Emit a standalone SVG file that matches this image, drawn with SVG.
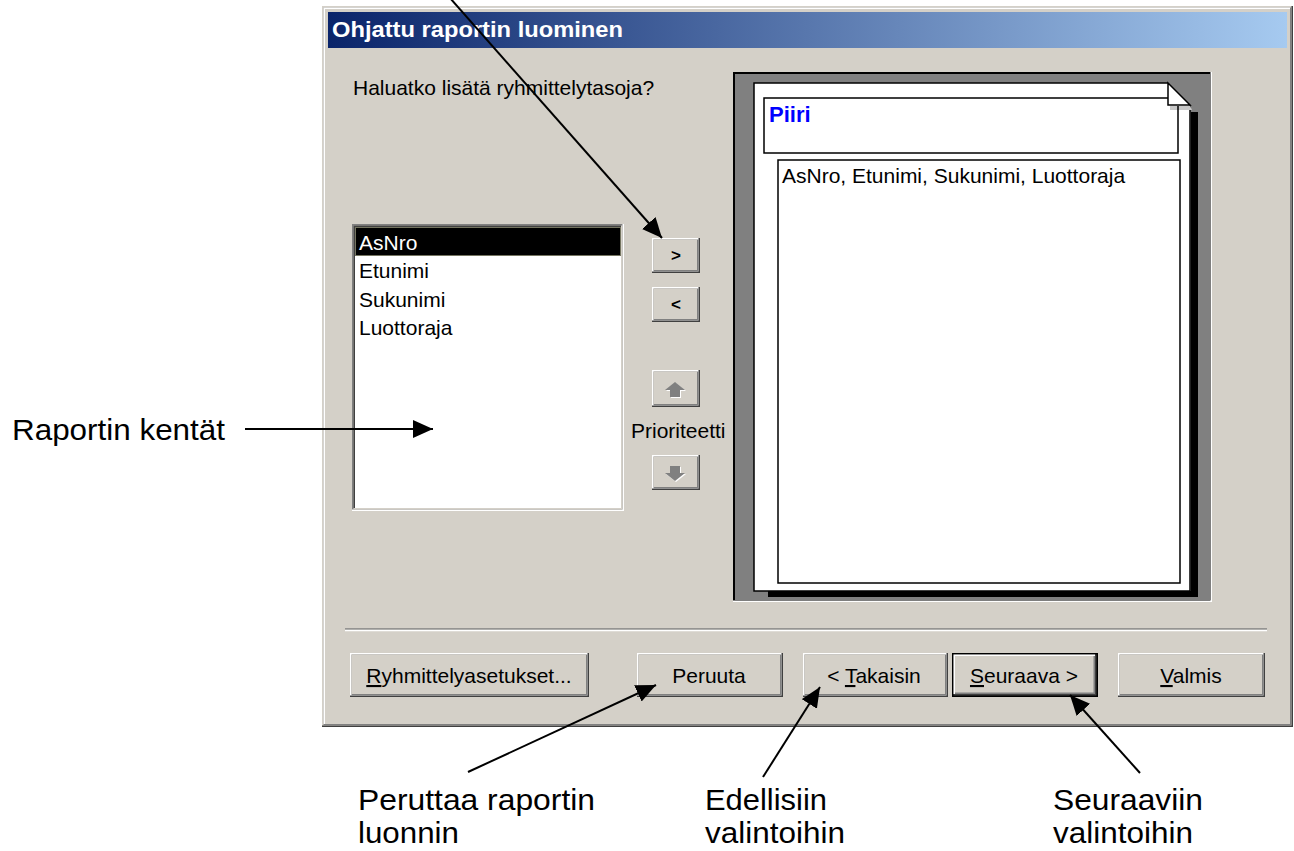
<svg xmlns="http://www.w3.org/2000/svg" width="1294" height="851" viewBox="0 0 1294 851">
  <defs>
    <linearGradient id="titleGrad" x1="0" y1="0" x2="1" y2="0">
      <stop offset="0" stop-color="#0a246a"/>
      <stop offset="1" stop-color="#a6caf0"/>
    </linearGradient>
    <marker id="arrowHead" markerUnits="userSpaceOnUse" markerWidth="22" markerHeight="20" refX="20" refY="9" orient="auto">
      <path d="M0,0 L20,9 L0,18 Z" fill="#000"/>
    </marker>
  </defs>
  <style>
    .ui { font-family: "Liberation Sans", Arial, sans-serif; font-size: 21px; fill: #000; }
    .btn-text { text-anchor: middle; }
    .label { font-family: "Liberation Sans", Arial, sans-serif; font-size: 30px; fill: #000; }
    .face { fill: #d4d0c8; }
    .bev-dark { fill: #404040; }
    .bev-hi { fill: #ffffff; }
    .bev-shadow { fill: #808080; }
    .icon { fill: #808080; }
    .icon-hi { fill: #ffffff; }
    .conn { stroke: #000; stroke-width: 2; fill: none; marker-end: url(#arrowHead); }
    .outline { fill: none; stroke: #000; stroke-width: 1.5; }
  </style>

  <rect width="1294" height="851" fill="#ffffff"/>

  <!-- window frame and title bar -->
  <g id="dialog">
    <rect class="bev-dark" x="322" y="6" width="971" height="721"/>
    <rect class="face" x="322" y="6" width="969.5" height="719.5"/>
    <rect class="bev-shadow" x="323.5" y="7.5" width="968" height="718"/>
    <rect class="bev-hi" x="323.5" y="7.5" width="966.5" height="716.5"/>
    <rect class="face" x="325" y="9" width="965" height="715"/>
    <rect x="328" y="12" width="959" height="36" fill="url(#titleGrad)"/>
    <text x="332" y="37" font-family="'Liberation Sans', Arial, sans-serif" font-size="22" font-weight="bold" fill="#ffffff" textLength="291" lengthAdjust="spacingAndGlyphs">Ohjattu raportin luominen</text>
    <!-- separator above the command buttons -->
    <line x1="345" y1="629" x2="1267" y2="629" stroke="#808080" stroke-width="1.5"/>
    <line x1="345" y1="630.5" x2="1267" y2="630.5" stroke="#ffffff" stroke-width="1.5"/>
  </g>

  <g id="question">
    <text class="ui" x="353" y="95">Haluatko lisätä ryhmittelytasoja?</text>
  </g>

  <!-- available fields list -->
  <g id="field-list">
    <rect class="bev-hi" x="352" y="224" width="272" height="287"/>
    <rect class="bev-shadow" x="352" y="224" width="270.5" height="285.5"/>
    <rect class="face" x="353.5" y="225.5" width="269" height="284"/>
    <rect class="bev-dark" x="353.5" y="225.5" width="267.5" height="282.5"/>
    <rect x="355" y="227" width="266" height="281" fill="#ffffff"/>
    <rect x="355" y="227" width="266" height="29" fill="#000000"/>
    <rect x="355.5" y="227.5" width="265" height="28" fill="none" stroke="#e8e8c0" stroke-width="1" stroke-dasharray="1 1"/>
    <text class="ui" x="359" y="250" style="fill:#ffffff">AsNro</text>
    <text class="ui" x="359" y="278">Etunimi</text>
    <text class="ui" x="359" y="307">Sukunimi</text>
    <text class="ui" x="359" y="335">Luottoraja</text>
  </g>

  <!-- move buttons -->
  <g id="btn-add">
    <rect class="bev-dark" x="652" y="238" width="48" height="35"/>
    <rect class="bev-hi" x="652" y="238" width="46.5" height="33.5"/>
    <rect class="bev-shadow" x="653.5" y="239.5" width="45" height="32"/>
    <rect class="face" x="653.5" y="239.5" width="43.5" height="30.5"/>
    <text class="ui btn-text" x="676" y="261" font-weight="bold" style="font-size:17px">&gt;</text>
  </g>
  <g id="btn-remove">
    <rect class="bev-dark" x="652" y="287" width="48" height="35"/>
    <rect class="bev-hi" x="652" y="287" width="46.5" height="33.5"/>
    <rect class="bev-shadow" x="653.5" y="288.5" width="45" height="32"/>
    <rect class="face" x="653.5" y="288.5" width="43.5" height="30.5"/>
    <text class="ui btn-text" x="676" y="310" font-weight="bold" style="font-size:17px">&lt;</text>
  </g>
  <g id="btn-up">
    <rect class="bev-dark" x="652" y="370" width="48" height="37"/>
    <rect class="bev-hi" x="652" y="370" width="46.5" height="35.5"/>
    <rect class="bev-shadow" x="653.5" y="371.5" width="45" height="34"/>
    <rect class="face" x="653.5" y="371.5" width="43.5" height="32.5"/>
    <polygon class="icon-hi" points="676,383 686,391 681,391 681,398 671,398 671,391 666,391"/>
    <polygon class="icon" points="675,382 685,390 680,390 680,397 670,397 670,390 665,390"/>
  </g>
  <g id="priority-label">
    <text class="ui" x="631" y="438">Prioriteetti</text>
  </g>
  <g id="btn-down">
    <rect class="bev-dark" x="652" y="455" width="48" height="35"/>
    <rect class="bev-hi" x="652" y="455" width="46.5" height="33.5"/>
    <rect class="bev-shadow" x="653.5" y="456.5" width="45" height="32"/>
    <rect class="face" x="653.5" y="456.5" width="43.5" height="30.5"/>
    <polygon class="icon-hi" points="676,482 686,474 681,474 681,467 671,467 671,474 666,474"/>
    <polygon class="icon" points="675,481 685,473 680,473 680,466 670,466 670,473 665,473"/>
  </g>

  <!-- report layout preview -->
  <g id="preview">
    <rect class="bev-hi" x="733" y="72" width="479" height="530"/>
    <rect fill="#000000" x="733" y="72" width="477.5" height="528.5"/>
    <rect class="bev-shadow" x="735" y="74" width="475" height="526"/>
    <path d="M1191,112 H1198 V597 H768 V591 H1191 Z" fill="#000000"/>
    <path d="M754,83 H1168 L1190,105 V591 H754 Z" fill="#ffffff"/>
    <path class="outline" d="M1190,105 V591 H754 V83 H1168"/>
    <polygon points="1170,105.8 1190,105.8 1192,110 1170,110" fill="#c8c8c8"/>
    <polygon points="1168,83 1168,105 1190,105" fill="#ffffff" stroke="#000" stroke-width="1.5"/>
    <path class="outline" d="M1168,98 H764 V153 H1178 V106"/>
    <text x="769" y="122" font-family="'Liberation Sans', Arial, sans-serif" font-size="22" font-weight="bold" fill="#0000ff">Piiri</text>
    <rect class="outline" x="778" y="160" width="402" height="423"/>
    <text class="ui" x="782" y="183">AsNro, Etunimi, Sukunimi, Luottoraja</text>
  </g>

  <!-- command buttons -->
  <g id="btn-options">
    <rect class="bev-dark" x="350" y="653" width="239" height="44"/>
    <rect class="bev-hi" x="350" y="653" width="237.5" height="42.5"/>
    <rect class="bev-shadow" x="351.5" y="654.5" width="236" height="41"/>
    <rect class="face" x="351.5" y="654.5" width="234.5" height="39.5"/>
    <text class="ui btn-text" x="469" y="683"><tspan text-decoration="underline">R</tspan>yhmittelyasetukset...</text>
  </g>
  <g id="btn-cancel">
    <rect class="bev-dark" x="637" y="653" width="146" height="44"/>
    <rect class="bev-hi" x="637" y="653" width="144.5" height="42.5"/>
    <rect class="bev-shadow" x="638.5" y="654.5" width="143" height="41"/>
    <rect class="face" x="638.5" y="654.5" width="141.5" height="39.5"/>
    <text class="ui btn-text" x="709" y="683">Peruuta</text>
  </g>
  <g id="btn-back">
    <rect class="bev-dark" x="803" y="653" width="145" height="44"/>
    <rect class="bev-hi" x="803" y="653" width="143.5" height="42.5"/>
    <rect class="bev-shadow" x="804.5" y="654.5" width="142" height="41"/>
    <rect class="face" x="804.5" y="654.5" width="140.5" height="39.5"/>
    <text class="ui btn-text" x="874" y="683">&lt; <tspan text-decoration="underline">T</tspan>akaisin</text>
  </g>
  <g id="btn-next">
    <rect fill="#000000" x="952" y="653" width="146" height="44"/>
    <rect class="bev-dark" x="953.5" y="654.5" width="143" height="41"/>
    <rect class="bev-hi" x="953.5" y="654.5" width="141.5" height="39.5"/>
    <rect class="bev-shadow" x="955" y="656" width="140" height="38"/>
    <rect class="face" x="955" y="656" width="138.5" height="36.5"/>
    <text class="ui btn-text" x="1024" y="683"><tspan text-decoration="underline">S</tspan>euraava &gt;</text>
  </g>
  <g id="btn-finish">
    <rect class="bev-dark" x="1118" y="653" width="147" height="44"/>
    <rect class="bev-hi" x="1118" y="653" width="145.5" height="42.5"/>
    <rect class="bev-shadow" x="1119.5" y="654.5" width="144" height="41"/>
    <rect class="face" x="1119.5" y="654.5" width="142.5" height="39.5"/>
    <text class="ui btn-text" x="1191" y="683"><tspan text-decoration="underline">V</tspan>almis</text>
  </g>

  <!-- callout labels -->
  <g id="label-fields">
    <text class="label" x="225" y="440" text-anchor="end" textLength="213" lengthAdjust="spacingAndGlyphs">Raportin kentät</text>
  </g>
  <g id="label-cancel">
    <text class="label" x="358" y="810" textLength="237" lengthAdjust="spacingAndGlyphs">Peruttaa raportin</text>
    <text class="label" x="358" y="843" textLength="101" lengthAdjust="spacingAndGlyphs">luonnin</text>
  </g>
  <g id="label-back">
    <text class="label" x="705" y="810" textLength="122" lengthAdjust="spacingAndGlyphs">Edellisiin</text>
    <text class="label" x="705" y="843" textLength="140" lengthAdjust="spacingAndGlyphs">valintoihin</text>
  </g>
  <g id="label-next">
    <text class="label" x="1053" y="810" textLength="150" lengthAdjust="spacingAndGlyphs">Seuraaviin</text>
    <text class="label" x="1053" y="843" textLength="140" lengthAdjust="spacingAndGlyphs">valintoihin</text>
  </g>

  <!-- callout arrows -->
  <g id="connectors">
    <path class="conn" d="M450,-2 L662,238"/>
    <path class="conn" d="M245,429 H433"/>
    <path class="conn" d="M468,772 L656,685"/>
    <path class="conn" d="M763,777 L820,687"/>
    <path class="conn" d="M1140,773 L1070,695"/>
  </g>
</svg>
